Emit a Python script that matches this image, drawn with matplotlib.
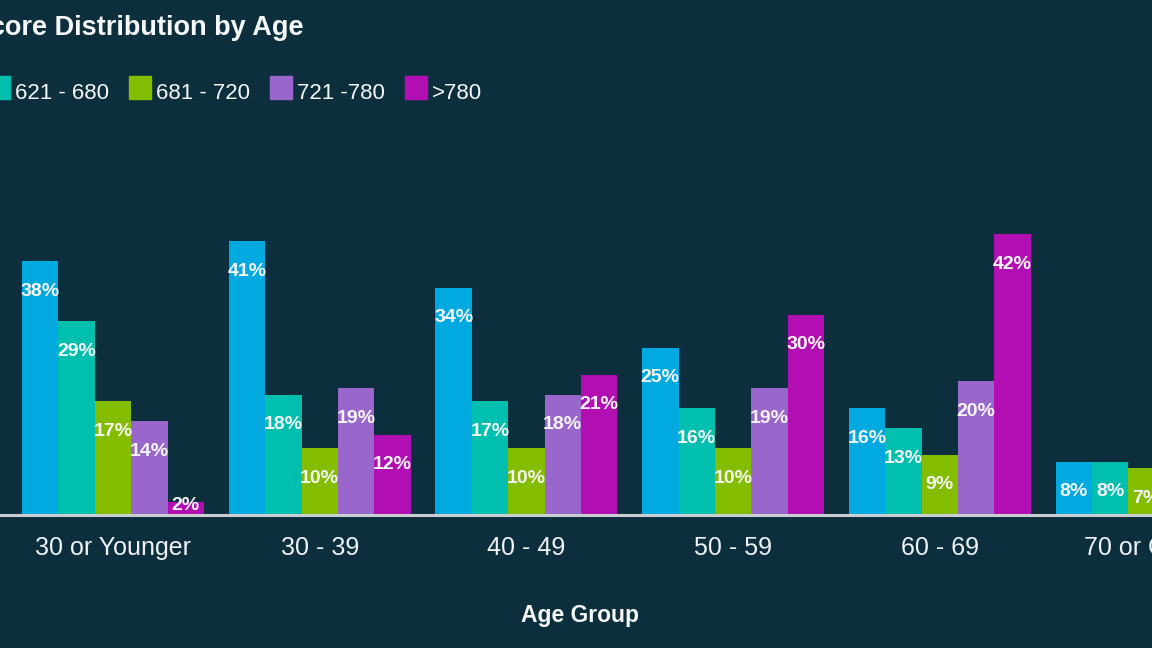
import matplotlib.pyplot as plt
import numpy as np
from matplotlib.patches import Rectangle

ages = ['30 or Younger', '30 - 39', '40 - 49', '50 - 59', '60 - 69', '70 or Older']
bands = ['<620', '621 - 680', '681 - 720', '721 -780', '>780']
colors = ['#00a9e0', '#00bfae', '#84bd00', '#9966cc', '#b10fb1']

# share of each score band per age group (%), last two of "70 or Older" are off-frame guesses
lt620 = [38, 41, 34, 25, 16, 8]
s621_680 = [29, 18, 17, 16, 13, 8]
s681_720 = [17, 10, 10, 10, 9, 7]
s721_780 = [14, 19, 18, 19, 20, 21]
gt780 = [2, 12, 21, 30, 42, 56]
series = [lt620, s621_680, s681_720, s721_780, gt780]

bg = '#0d2f3d'
W, H = 1152, 648
fig = plt.figure(figsize=(W / 100, H / 100), dpi=100, facecolor=bg)
plt.rcParams['font.family'] = ['Liberation Sans', 'DejaVu Sans']

base_px = 515
px_per_pct = 6.68
ax = fig.add_axes([0, (H - base_px) / H, 1, base_px / H])
ax.set_facecolor(bg)

ind = np.arange(len(ages))
width = 0.176
for i, (vals, c) in enumerate(zip(series, colors)):
    xs = ind + (i - 2) * width
    ax.bar(xs, vals, width, color=c, zorder=2)
    for x, v in zip(xs, vals):
        # label sits ~30px under the bar top, but never below the baseline
        drop = min(30, v * px_per_pct - 9)
        ax.annotate(f'{v}%', (x, v), xytext=(0, -drop * 0.72), textcoords='offset points',
                    ha='center', va='center', color='#f5f5f5', fontsize=14,
                    fontweight='bold', zorder=3)

ax.set_xlim(-113 / 206.7, (W - 113) / 206.7)
ax.set_ylim(0, base_px / px_per_pct)
for s in ['top', 'left', 'right']:
    ax.spines[s].set_visible(False)
ax.spines['bottom'].set_color('#c9ced2')
ax.spines['bottom'].set_linewidth(2.2)
ax.spines['bottom'].set_zorder(4)
ax.set_yticks([])
ax.set_xticks(ind)
ax.set_xticklabels(ages, color='#eef2f4', fontsize=18)
ax.tick_params(axis='x', length=0, pad=15)

def fy(py):
    return 1 - py / H

fig.text(304 / W, fy(35), 'Credit Score Distribution by Age', ha='right', va='baseline',
         color='#f5f7f8', fontsize=19.5, fontweight='bold')
fig.text(580 / W, fy(622), 'Age Group', ha='center', va='baseline',
         color='#f5f7f8', fontsize=16.5, fontweight='bold')

# legend drawn by hand so it is cut at the left edge like the source
fig.canvas.draw()
rend = fig.canvas.get_renderer()
sw, pad, gap = 22, 5, 20
x = -12
for k in range(1, len(bands)):
    fig.patches.append(Rectangle((x / W, fy(99)), sw / W, 23 / H, transform=fig.transFigure,
                                 color=colors[k], figure=fig))
    t = fig.text((x + sw + pad) / W, fy(99), bands[k], ha='left', va='baseline',
                 color='#f5f7f8', fontsize=16)
    x += sw + pad + t.get_window_extent(rend).width + gap
t0 = fig.text((-12 - gap) / W, fy(99), bands[0], ha='right', va='baseline',
              color='#f5f7f8', fontsize=16)
x0 = -12 - gap - t0.get_window_extent(rend).width - pad - sw
fig.patches.append(Rectangle((x0 / W, fy(99)), sw / W, 23 / H, transform=fig.transFigure,
                             color=colors[0], figure=fig))

fig.savefig('out.png', dpi=100, facecolor=bg)
